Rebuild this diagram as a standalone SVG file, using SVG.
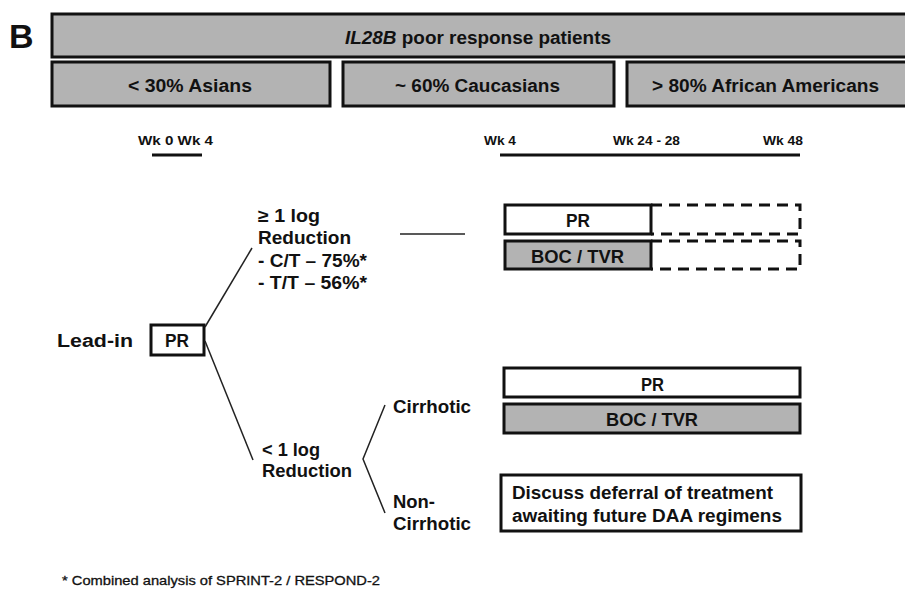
<svg xmlns="http://www.w3.org/2000/svg" width="905" height="614" viewBox="0 0 905 614">
<style>
text{font-family:"Liberation Sans",Arial,sans-serif;font-weight:bold;fill:#111}
.box{stroke:#111;stroke-width:3}
.gray{fill:#b3b3b3}
.white{fill:#fff}
.big{font-size:18px}
.sm{font-size:13px}
.dash{fill:none;stroke:#111;stroke-width:3;stroke-dasharray:11 7}
.thin{fill:none;stroke:#222;stroke-width:1.5}
.axis{stroke:#111;stroke-width:3}
</style>
<rect width="905" height="614" fill="#fff"/>
<text x="9" y="48" font-size="34">B</text>

<g id="header">
<rect class="box gray" x="52" y="14" width="860" height="43"/>
<text class="big" x="345" y="44" textLength="266" lengthAdjust="spacingAndGlyphs"><tspan font-style="italic">IL28B</tspan> poor response patients</text>
</g>
<g id="asians">
<rect class="box gray" x="52" y="62" width="278" height="44"/>
<text class="big" x="128" y="92" textLength="124" lengthAdjust="spacingAndGlyphs">&lt; 30% Asians</text>
</g>
<g id="caucasians">
<rect class="box gray" x="343" y="62" width="271" height="44"/>
<text class="big" x="395" y="92" textLength="165" lengthAdjust="spacingAndGlyphs">~ 60% Caucasians</text>
</g>
<g id="african">
<rect class="box gray" x="627" y="62" width="290" height="44"/>
<text class="big" x="652" y="92" textLength="227" lengthAdjust="spacingAndGlyphs">&gt; 80% African Americans</text>
</g>

<g id="timeline">
<text class="sm" x="138" y="145" textLength="75" lengthAdjust="spacingAndGlyphs">Wk 0  Wk 4</text>
<line class="axis" x1="152" y1="155" x2="202" y2="155"/>
<text class="sm" x="484" y="145" textLength="32" lengthAdjust="spacingAndGlyphs">Wk 4</text>
<text class="sm" x="613" y="145" textLength="67" lengthAdjust="spacingAndGlyphs">Wk 24 - 28</text>
<text class="sm" x="763" y="145" textLength="40" lengthAdjust="spacingAndGlyphs">Wk 48</text>
<line class="axis" x1="500" y1="155" x2="800" y2="155"/>
</g>

<g id="leadin">
<text class="big" x="57" y="347" textLength="76" lengthAdjust="spacingAndGlyphs">Lead-in</text>
<rect class="box white" x="151" y="325" width="53" height="30"/>
<text class="big" x="165" y="347" textLength="24" lengthAdjust="spacingAndGlyphs">PR</text>
</g>

<g id="ge1log">
<text class="big" x="258" y="222" textLength="62" lengthAdjust="spacingAndGlyphs">≥ 1 log</text>
<text class="big" x="258" y="244" textLength="93" lengthAdjust="spacingAndGlyphs">Reduction</text>
<text class="big" x="258" y="267" textLength="109" lengthAdjust="spacingAndGlyphs">- C/T – 75%*</text>
<text class="big" x="258" y="289" textLength="109" lengthAdjust="spacingAndGlyphs">- T/T – 56%*</text>
</g>

<g id="lt1log">
<text class="big" x="262" y="456" textLength="58" lengthAdjust="spacingAndGlyphs">&lt; 1 log</text>
<text class="big" x="262" y="477" textLength="90" lengthAdjust="spacingAndGlyphs">Reduction</text>
</g>

<g id="cirrhotic">
<text class="big" x="393" y="413" textLength="78" lengthAdjust="spacingAndGlyphs">Cirrhotic</text>
</g>
<g id="noncirrhotic">
<text class="big" x="393" y="508" textLength="42" lengthAdjust="spacingAndGlyphs">Non-</text>
<text class="big" x="393" y="530" textLength="78" lengthAdjust="spacingAndGlyphs">Cirrhotic</text>
</g>

<g id="pr1">
<rect class="box white" x="505" y="205" width="146" height="29"/>
<text class="big" x="566" y="227" textLength="24" lengthAdjust="spacingAndGlyphs">PR</text>
<path class="dash" d="M651 205 H800 V234 H651"/>
</g>
<g id="boc1">
<rect class="box gray" x="505" y="241" width="146" height="28"/>
<text class="big" x="531" y="263" textLength="93" lengthAdjust="spacingAndGlyphs">BOC / TVR</text>
<path class="dash" d="M651 241 H800 V269 H651"/>
</g>

<g id="pr2">
<rect class="box white" x="504" y="368" width="296" height="29"/>
<text class="big" x="641" y="391" textLength="23" lengthAdjust="spacingAndGlyphs">PR</text>
</g>
<g id="boc2">
<rect class="box gray" x="504" y="404" width="296" height="29"/>
<text class="big" x="606" y="426" textLength="92" lengthAdjust="spacingAndGlyphs">BOC / TVR</text>
</g>

<g id="defer">
<rect class="box white" x="501" y="475" width="300" height="56"/>
<text class="big" x="512" y="499" textLength="261" lengthAdjust="spacingAndGlyphs">Discuss deferral of treatment</text>
<text class="big" x="512" y="522" textLength="270" lengthAdjust="spacingAndGlyphs">awaiting future DAA regimens</text>
</g>

<g id="connectors">
<line class="thin" x1="205" y1="327" x2="252" y2="248"/>
<line class="thin" x1="205" y1="341" x2="253" y2="460"/>
<line class="thin" x1="400" y1="234" x2="465" y2="234"/>
<polyline class="thin" points="385,405 363,459 385,513"/>
</g>

<text x="62" y="585" font-size="13" textLength="318" lengthAdjust="spacingAndGlyphs" style="font-weight:normal;stroke:#111;stroke-width:0.3">* Combined analysis of SPRINT-2 / RESPOND-2</text>
</svg>
